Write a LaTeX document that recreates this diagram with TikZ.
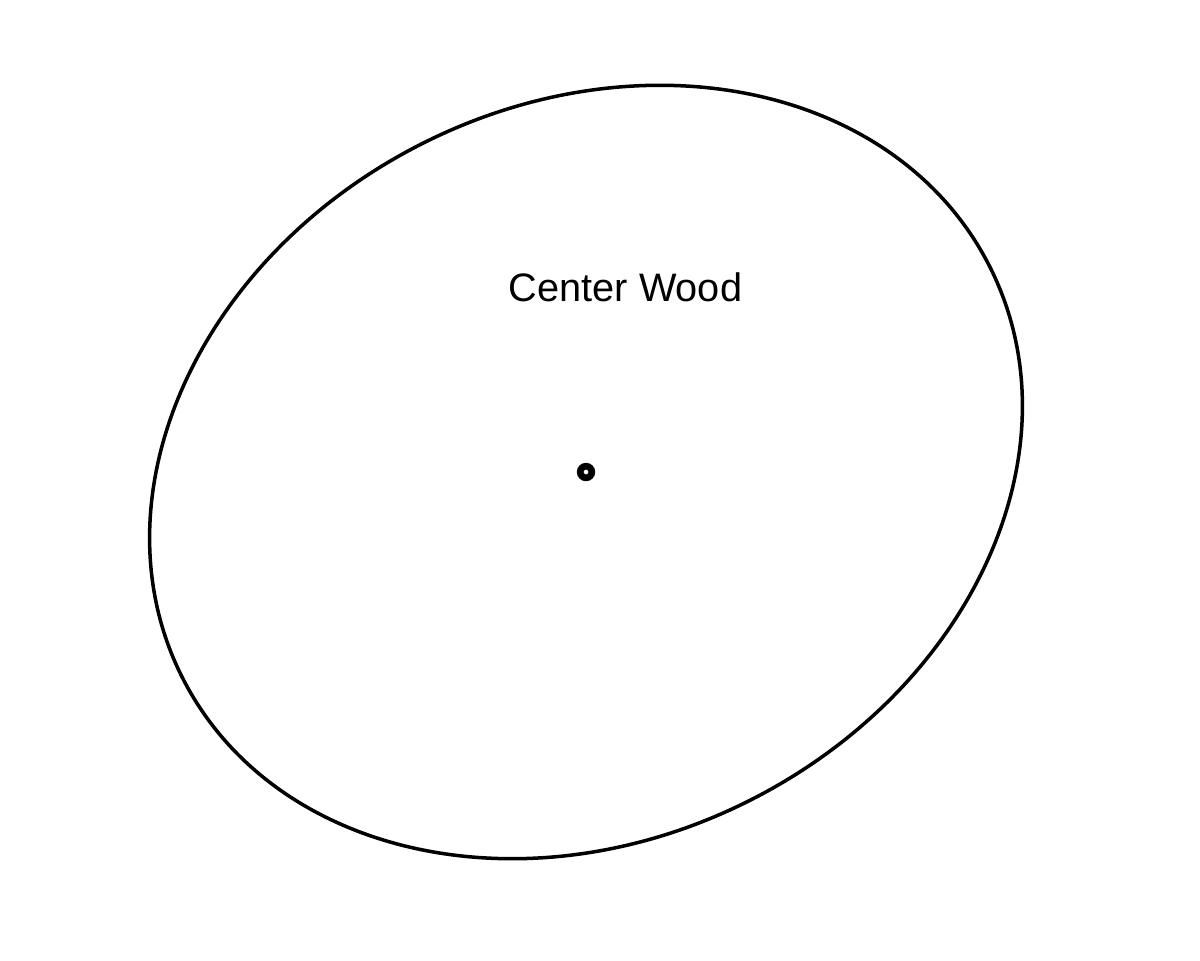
\documentclass[tikz,border=0pt]{standalone}
\usepackage{fontspec}
\setmainfont{Liberation Sans}
\usepackage{tikz}

\begin{document}
\begin{tikzpicture}[scale=1, transform shape]
                        \useasboundingbox (0, 0) rectangle (12, 9.6);
                        \coordinate (centre) at (5.86, 4.88);
                        \draw[line width=1pt] (centre) ellipse [x radius=4.53, y radius=3.67, rotate=27.3];
                        \draw[line width=1.9pt] (centre) circle (0.058);
                        \node[font=\fontsize{11.3}{13}\selectfont] (label) at (6.255, 6.73){Center Wood};
                \end{tikzpicture}
\end{document}
